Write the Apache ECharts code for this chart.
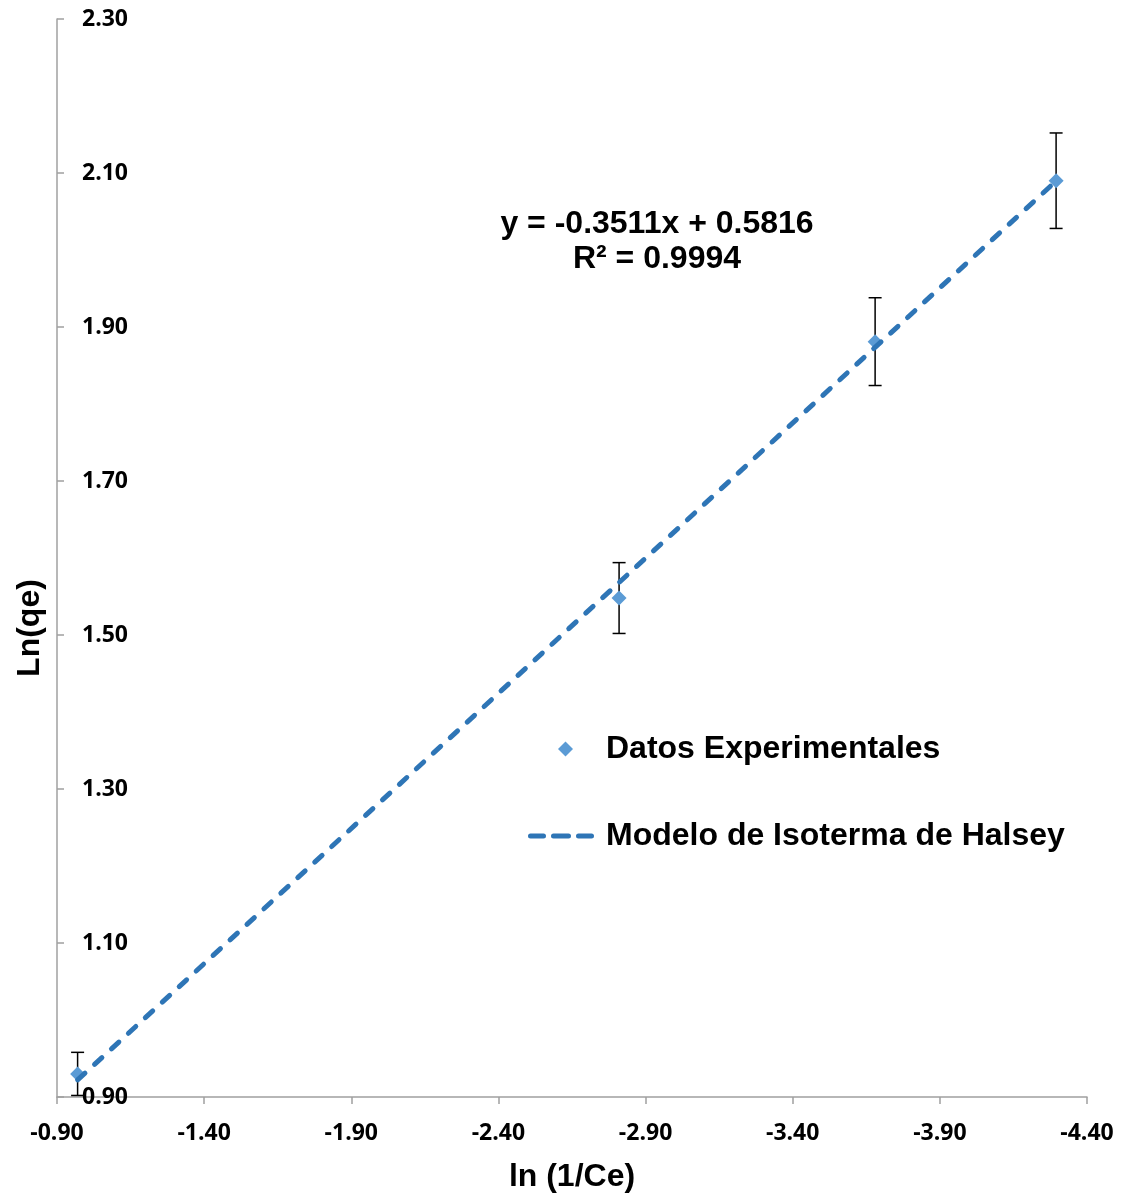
<!DOCTYPE html>
<html>
<head>
<meta charset="utf-8">
<script src="https://cdn.jsdelivr.net/npm/echarts@6/dist/echarts.min.js"></script>
<style>
  html, body { margin: 0; padding: 0; background: #fff; }
  #chart { width: 1129px; height: 1198px; }
</style>
</head>
<body>
<div id="chart"></div>
<script>
// ln(1/Ce) and ln(qe) measurements
const lnInvCe = [-0.97, -2.81, -3.68, -4.295];
const lnQe = [0.93, 1.548, 1.881, 2.09];
// half-width of each error bar
const lnQeErr = [0.028, 0.046, 0.057, 0.062];

// Halsey isotherm fit: y = slope * x + intercept
const fitSlope = -0.3511;
const fitIntercept = 0.5816;
const fitR2 = 0.9994;

// axis ticks
const xTicks = [-0.9, -1.4, -1.9, -2.4, -2.9, -3.4, -3.9, -4.4];
const yTicks = [0.9, 1.1, 1.3, 1.5, 1.7, 1.9, 2.1, 2.3];

const seriesNames = ['Datos Experimentales', 'Modelo de Isoterma de Halsey'];
const xTitle = 'ln (1/Ce)';
const yTitle = 'Ln(qe)';

const points = lnInvCe.map((x, i) => [x, lnQe[i]]);
const errBars = lnInvCe.map((x, i) => [x, lnQe[i] - lnQeErr[i], lnQe[i] + lnQeErr[i]]);
const xFitStart = Math.max(...lnInvCe);
const xFitEnd = Math.min(...lnInvCe);
const fitLine = [
  [xFitStart, fitSlope * xFitStart + fitIntercept],
  [xFitEnd, fitSlope * xFitEnd + fitIntercept]
];

const lineBlue = '#2e75b6';
const markerBlue = '#5b9bd5';
const axisGray = '#a0a0a0';
const tickFont = { fontFamily: 'Open Sans', fontWeight: 700, fontSize: 23, color: '#000' };
const titleFont = { fontFamily: 'Liberation Sans, Arial', fontWeight: 'bold', fontSize: 32, color: '#000' };

// three rounded dashes for the fit-line legend key
const dashIcon = 'path://M2.5,0H15.5A2.5,2.5 0 0 1 15.5,5H2.5A2.5,2.5 0 0 1 2.5,0Z' +
  'M25.5,0H40.5A2.5,2.5 0 0 1 40.5,5H25.5A2.5,2.5 0 0 1 25.5,0Z' +
  'M50.5,0H63.5A2.5,2.5 0 0 1 63.5,5H50.5A2.5,2.5 0 0 1 50.5,0Z';

const chart = echarts.init(document.getElementById('chart'));
chart.setOption({
  animation: false,
  backgroundColor: '#fff',
  grid: { left: 57, right: 42, top: 19, bottom: 100 },
  xAxis: {
    type: 'value',
    min: -4.4,
    max: -0.9,
    inverse: true,
    splitLine: { show: false },
    axisLine: { lineStyle: { color: axisGray, width: 1.5 } },
    axisTick: { show: true, length: 7, lineStyle: { color: axisGray, width: 1.5 }, customValues: xTicks },
    axisLabel: Object.assign({ margin: 25, customValues: xTicks, formatter: v => v.toFixed(2) }, tickFont),
    name: xTitle,
    nameLocation: 'middle',
    nameGap: 64,
    nameTextStyle: titleFont
  },
  yAxis: {
    type: 'value',
    min: 0.9,
    max: 2.3,
    splitLine: { show: false },
    axisLine: { show: true, lineStyle: { color: axisGray, width: 1.5 } },
    axisTick: { show: true, inside: true, length: 7, lineStyle: { color: axisGray, width: 1.5 }, customValues: yTicks },
    axisLabel: Object.assign({ inside: true, margin: 25, customValues: yTicks, formatter: v => v.toFixed(2) }, tickFont)
  },
  legend: [
    {
      orient: 'vertical',
      left: 553,
      top: 728,
      itemWidth: 15,
      itemHeight: 15,
      textStyle: Object.assign({ padding: [0, 0, 0, 28] }, titleFont),
      data: [{ name: seriesNames[0], icon: 'diamond' }]
    },
    {
      orient: 'vertical',
      left: 523,
      top: 815,
      itemWidth: 66,
      itemHeight: 5,
      textStyle: Object.assign({ padding: [0, 0, 0, 7] }, titleFont),
      data: [{ name: seriesNames[1], icon: dashIcon }]
    }
  ],
  graphic: [
    {
      type: 'text',
      x: 657,
      y: 242,
      style: {
        text: 'y = ' + fitSlope + 'x + ' + fitIntercept + '\nR² = ' + fitR2,
        align: 'center',
        verticalAlign: 'middle',
        lineHeight: 35,
        font: 'bold 32px "Liberation Sans", Arial',
        fill: '#000'
      }
    },
    {
      type: 'text',
      x: 30,
      y: 628,
      rotation: Math.PI / 2,
      style: {
        text: yTitle,
        align: 'center',
        verticalAlign: 'middle',
        font: 'bold 32px "Liberation Sans", Arial',
        fill: '#000'
      }
    }
  ],
  series: [
    {
      type: 'custom',
      name: 'errors',
      z: 1,
      silent: true,
      data: errBars,
      encode: { x: 0, y: [1, 2] },
      renderItem: function (params, api) {
        const lo = api.coord([api.value(0), api.value(1)]);
        const hi = api.coord([api.value(0), api.value(2)]);
        const cap = 6.5;
        const st = { stroke: '#000', lineWidth: 1.5 };
        return {
          type: 'group',
          children: [
            { type: 'line', shape: { x1: lo[0], y1: lo[1], x2: hi[0], y2: hi[1] }, style: st },
            { type: 'line', shape: { x1: lo[0] - cap, y1: lo[1], x2: lo[0] + cap, y2: lo[1] }, style: st },
            { type: 'line', shape: { x1: hi[0] - cap, y1: hi[1], x2: hi[0] + cap, y2: hi[1] }, style: st }
          ]
        };
      }
    },
    {
      type: 'scatter',
      name: seriesNames[0],
      z: 2,
      symbol: 'diamond',
      symbolSize: 15,
      itemStyle: { color: markerBlue, opacity: 1 },
      data: points
    },
    {
      type: 'line',
      name: seriesNames[1],
      z: 3,
      symbol: 'none',
      lineStyle: { color: lineBlue, width: 5, type: [10, 13], cap: 'round' },
      itemStyle: { color: lineBlue },
      data: fitLine
    }
  ]
});
</script>
</body>
</html>
